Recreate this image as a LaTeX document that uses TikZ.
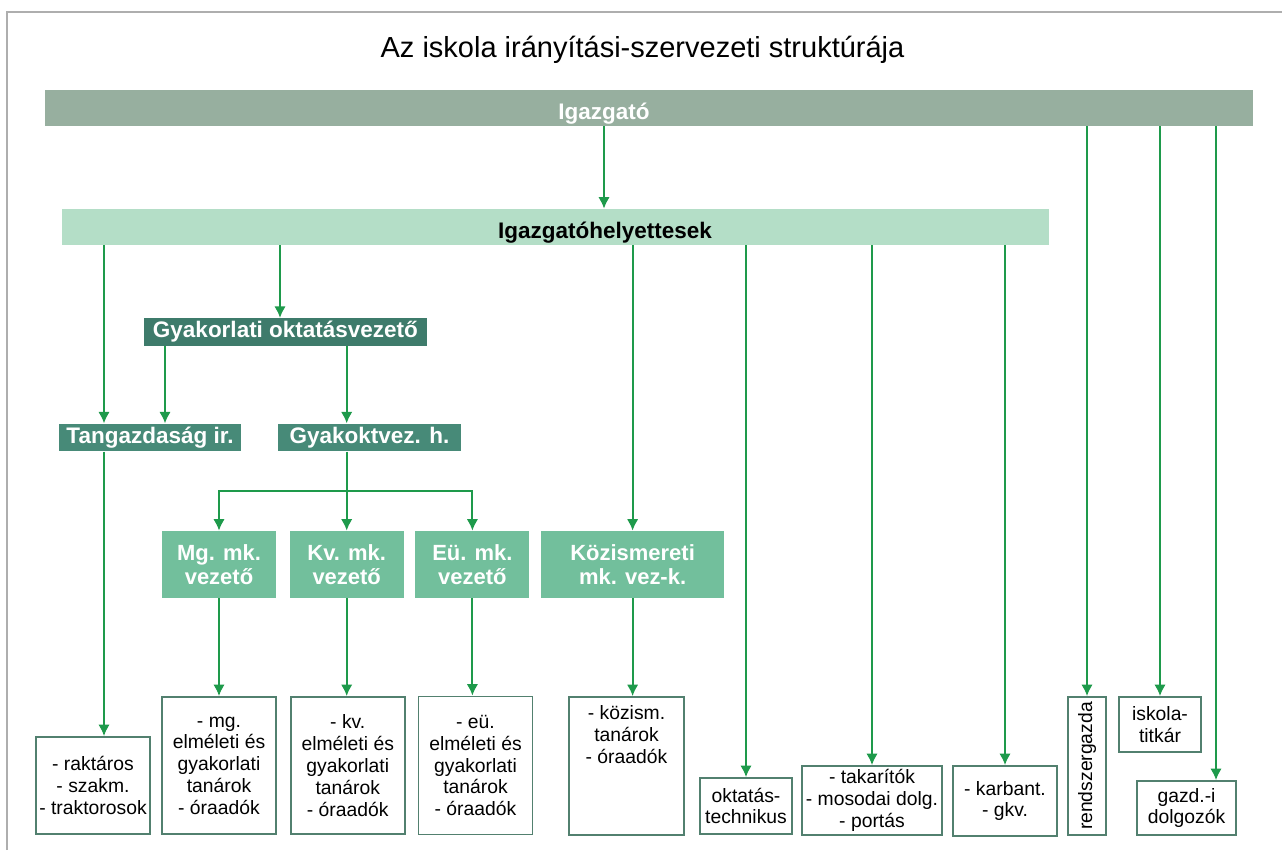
\documentclass[tikz,border=0pt]{standalone}
\usepackage{fontspec}
\setmainfont{Liberation Sans}
\usetikzlibrary{positioning,arrows.meta}

\definecolor{barszurke}{HTML}{97AF9F}
\definecolor{barvilagos}{HTML}{B4DEC7}
\definecolor{sotetzold}{HTML}{3E7B6B}
\definecolor{kozepzold}{HTML}{478A78}
\definecolor{mkzold}{HTML}{72BF9C}
\definecolor{nyilzold}{HTML}{1E9A4B}
\definecolor{keret}{HTML}{52806F}
\definecolor{lapkeret}{HTML}{AEAEAE}

\tikzset{
  nyil/.style={draw=nyilzold,line width=1.2pt,-{Latex[length=6.5pt,width=6.5pt]}},
  fej/.style={font=\fontsize{12.8}{14}\selectfont\bfseries},
  sav/.style={inner sep=0pt,minimum height=0.72cm},
  sotet/.style={fill=kozepzold,text=white,fej,inner sep=0pt,minimum height=0.55cm},
  mk/.style={fill=mkzold,text=white,align=center,inner sep=0pt,font=\fontsize{12.5}{13.4}\selectfont\bfseries,minimum width=2.28cm,minimum height=1.34cm},
  feher/.style={draw=keret,line width=1pt,fill=white,align=center,inner sep=1pt,font=\fontsize{11}{12.4}\selectfont},
}

\begin{document}
\begin{tikzpicture}
  \useasboundingbox (0,0) rectangle (25.64,-17);
  \draw[lapkeret,line width=0.6pt] (0.14,-17) -- (0.14,-0.24) -- (25.64,-0.24);
  \node[font=\fontsize{16.5}{18}\selectfont] (cim) at (12.85,-1.0) {Az iskola irányítási-szervezeti struktúrája};

  % vezetes
  \node[sav,fill=barszurke,minimum width=24.16cm] (igazgato) at (12.98,-2.16) {};
  \node[fej,text=white,anchor=base] (igazgatocim) at (12.08,-2.38) {Igazgató};
  \node[sav,fill=barvilagos,minimum width=19.74cm] (helyettes) at (11.11,-4.54) {};
  \node[fej,anchor=base] (helyettescim) at (12.1,-4.76) {Igazgatóhelyettesek};

  \node[sotet,fill=sotetzold,minimum width=5.66cm] (gyak) at (5.71,-6.64) {Gyakorlati oktatásvezető};
  \node[sotet,minimum width=3.64cm] (tang) at (3.0,-8.75) {Tangazdaság ir.};
  \node[sotet,minimum width=3.66cm] (gyh) at (7.39,-8.75) {Gyakoktvez. h.};

  % munkakozossegek
  \node[mk] (mg) at (4.38,-11.29) {Mg. mk.\\vezető};
  \node[mk,right=0.26 of mg] (kv) {Kv. mk.\\vezető};
  \node[mk,right=0.22 of kv] (eu) {Eü. mk.\\vezető};
  \node[mk,right=0.22 of eu,minimum width=3.66cm] (koz) {Közismereti\\mk. vez-k.};

  % also sor
  \node[feher,minimum width=2.28cm,minimum height=1.94cm] (raktar) at (1.86,-15.71) {- raktáros\\- szakm.\\- traktorosok};
  \node[feher,minimum width=2.28cm,minimum height=2.74cm] (mgw) at (4.38,-15.31) {- mg.\\elméleti és\\gyakorlati\\tanárok\\- óraadók};
  \node[feher,minimum width=2.28cm,minimum height=2.74cm,right=0.26 of mgw] (kvw) {- kv.\\elméleti és\\gyakorlati\\tanárok\\- óraadók};
  \node[feher,minimum width=2.28cm,minimum height=2.76cm,right=0.24 of kvw] (euw) {- eü.\\elméleti és\\gyakorlati\\tanárok\\- óraadók};
  \node[feher,minimum width=2.3cm,minimum height=2.76cm] (kozw) at (12.53,-15.32) {};
  \node[feher,draw=none,fill=none,anchor=north] (kozwszoveg) at ([yshift=-0.14cm]kozw.north) {- közism.\\tanárok\\- óraadók};
  \node[feher,minimum width=1.84cm,minimum height=1.12cm] (okt) at (14.92,-16.12) {oktatás-\\technikus};
  \node[feher,minimum width=2.8cm,minimum height=1.38cm] (takar) at (17.44,-16.01) {- takarítók\\- mosodai dolg.\\- portás};
  \node[feher,minimum width=2.08cm,minimum height=1.4cm] (karb) at (20.1,-16.02) {- karbant.\\- gkv.};
  \node[feher,rotate=90,minimum width=2.76cm,minimum height=0.76cm] (rendsz) at (21.74,-15.32) {rendszergazda};
  \node[feher,minimum width=1.64cm,minimum height=1.1cm] (iskola) at (23.2,-14.49) {iskola-\\titkár};
  \node[feher,minimum width=1.98cm,minimum height=1.08cm] (gazd) at (23.73,-16.16) {gazd.-i\\dolgozók};

  % segedpontok
  \path (tang.north) ++(-0.92,0) coordinate (tangbe);
  \path (tang.north) ++(0.3,0) coordinate (tangbe2);
  \path (gyak.north) ++(-0.11,0) coordinate (gyakbe);
  \path (gazd.north) ++(0.59,0) coordinate (gazdbe);
  \path (kv.north |- 0,-9.82) coordinate (elagazas);

  \draw[nyil] (igazgato.south -| igazgatocim) -- (helyettes.north -| igazgatocim);
  \draw[nyil] (igazgato.south -| rendsz.east) -- (rendsz.east);
  \draw[nyil] (igazgato.south -| iskola.north) -- (iskola.north);
  \draw[nyil] (igazgato.south -| gazdbe) -- (gazdbe);

  \draw[nyil] (helyettes.south -| tangbe) -- (tangbe);
  \draw[nyil] (helyettes.south -| gyakbe) -- (gyakbe);
  \draw[nyil] (helyettes.south -| koz.north) -- (koz.north);
  \draw[nyil] (helyettes.south -| okt.north) -- (okt.north);
  \draw[nyil] (helyettes.south -| takar.north) -- (takar.north);
  \draw[nyil] (helyettes.south -| karb.north) -- (karb.north);

  \draw[nyil] (gyak.south -| tangbe2) -- (tangbe2);
  \draw[nyil] (gyak.south -| kv.north) -- (gyh.north -| kv.north);
  \draw[nyil] (gyh.south -| kv.north) -- (kv.north);
  \draw[nyil] (elagazas) -| (mg.north);
  \draw[nyil] (elagazas) -| (eu.north);

  \draw[nyil] (tang.south -| tangbe) -- (raktar.north -| tangbe);
  \draw[nyil] (mg.south) -- (mgw.north);
  \draw[nyil] (kv.south) -- (kvw.north -| kv.south);
  \draw[nyil] (eu.south) -- (euw.north -| eu.south);
  \draw[nyil] (koz.south) -- (kozw.north -| koz.south);
\end{tikzpicture}
\end{document}
